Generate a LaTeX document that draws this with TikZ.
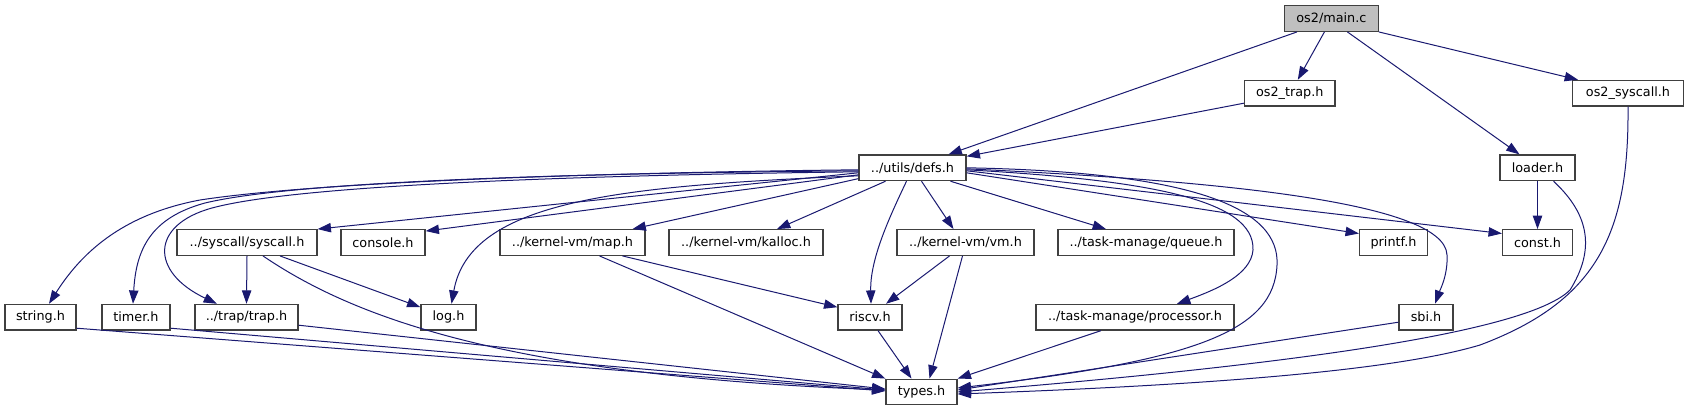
\documentclass[tikz,border=0pt]{standalone}
\usepackage{fontspec}
\setmainfont{DejaVu Sans}
\usetikzlibrary{arrows.meta,calc}
\definecolor{edgeblue}{HTML}{191970}
\definecolor{boxline}{HTML}{404040}
\definecolor{rootfill}{HTML}{BFBFBF}
\tikzset{
  box/.style={draw=boxline, line width=0.95pt, fill=white, inner sep=0pt,
    minimum height=19.2pt, font=\fontsize{9.6pt}{11pt}\selectfont, text=black},
  wd/.style={minimum width=#1*0.75pt},
  rootbox/.style={box, fill=rootfill},
  dep/.style={draw=edgeblue, line width=0.75pt, -{Triangle[length=10pt,width=7pt]}, fill=none},
}
\begin{document}
\begin{tikzpicture}[x=0.75pt,y=-0.75pt]
\useasboundingbox (0,0) rectangle (1687,411);
% row 1
\node[rootbox, wd=93.6] (main) at (1331.4,18.5) {os2/main.c};
% row 2
\node[box, wd=90.6] (os2trap) at (1289.8,93.2) {os2\_trap.h};
\node[box, wd=110.5] (os2sys) at (1628,93.2) {os2\_syscall.h};
% row 3
\node[box, wd=107] (defs) at (912.5,167.8) {../utils/defs.h};
\node[box, wd=75] (loader) at (1537.5,167.8) {loader.h};
% row 4
\node[box, wd=140] (syscall) at (247,242.5) {../syscall/syscall.h};
\node[box, wd=84] (console) at (383,242.5) {console.h};
\node[box, wd=145] (map) at (572.5,242.5) {../kernel-vm/map.h};
\node[box, wd=154] (kalloc) at (746,242.5) {../kernel-vm/kalloc.h};
\node[box, wd=137] (vm) at (965.5,242.5) {../kernel-vm/vm.h};
\node[box, wd=176] (queue) at (1146,242.5) {../task-manage/queue.h};
\node[box, wd=68] (printf) at (1393.5,242.5) {printf.h};
\node[box, wd=70] (const) at (1537.5,242.5) {const.h};
% row 5
\node[box, wd=71] (string) at (40.5,317.2) {string.h};
\node[box, wd=68] (timer) at (136,317.2) {timer.h};
\node[box, wd=103] (trap) at (246.5,317.2) {../trap/trap.h};
\node[box, wd=55] (log) at (448.5,317.2) {log.h};
\node[box, wd=64] (riscv) at (870,317.2) {riscv.h};
\node[box, wd=198] (processor) at (1135,317.2) {../task-manage/processor.h};
\node[box, wd=54] (sbi) at (1426,317.2) {sbi.h};
% row 6
\node[box, wd=71] (types) at (921.5,392) {types.h};

% edges from main.c
\draw[dep] ($(main.south west)+(13,0)$) -- ($(defs.north)+(36,0)$);
\draw[dep] ($(main.south)+(-7,0)$) -- ($(os2trap.north)+(8,0)$);
\draw[dep] ($(main.south)+(16,0)$) -- ($(loader.north)+(-18,0)$);
\draw[dep] (main.south east) -- ($(os2sys.north)+(-50,0)$);
\draw[dep] ($(os2trap.west)+(0,10)$) -- ($(defs.north east)+(0,2)$);
\draw[dep] (os2sys.south) .. controls (1629,230) and (1600,300) .. (1480,345)
   .. controls (1380,375) and (1150,387) .. ($(types.east)+(0,2)$);
\draw[dep] (loader.south) -- (const.north);
\draw[dep] ($(loader.south)+(16,0)$) .. controls (1590,215) and (1595,250) .. (1570,290)
   .. controls (1520,340) and (1200,372) .. (types.east);

% edges from defs.h, left side
\draw[dep] ($(defs.west)+(0,2)$) .. controls (650,172) and (330,180) .. (200,200)
   .. controls (120,215) and (80,255) .. ($(string.north)+(8.5,0)$);
\draw[dep] ($(defs.west)+(0,3)$) .. controls (600,173) and (300,180) .. (205,203)
   .. controls (150,218) and (136,250) .. ($(timer.north)+(-3,0)$);
\draw[dep] ($(defs.west)+(0,4)$) .. controls (600,175) and (300,184) .. (212,208)
   .. controls (150,225) and (150,272) .. ($(trap.north)+(-29.5,0)$);
\draw[dep] ($(defs.west)+(0,5)$) -- (syscall.north east);
\draw[dep] ($(defs.west)+(0,7)$) -- ($(console.north east)+(0,2)$);
\draw[dep] ($(defs.west)+(0,8)$) .. controls (620,186) and (470,200) .. ($(log.north)+(3,0)$);
\draw[dep] ($(defs.south west)+(0,-2.6)$) -- ($(map.north)+(60,0)$);
% defs.h bottom
\draw[dep] ($(defs.south)+(-27,0)$) -- ($(kalloc.north)+(31,0)$);
\draw[dep] ($(defs.south)+(-6,0)$) .. controls (888,220) and (870,260) .. ($(riscv.north)+(1,0)$);
\draw[dep] ($(defs.south)+(9,0)$) -- ($(vm.north)+(-12,0)$);
\draw[dep] ($(defs.south)+(38,0)$) -- ($(queue.north)+(-40,0)$);
% defs.h right side
\draw[dep] ($(defs.east)+(0,5)$) -- ($(printf.west)+(0,-9)$);
\draw[dep] ($(defs.east)+(0,3)$) -- ($(const.west)+(0,-9)$);
\draw[dep] ($(defs.east)+(0,1)$) .. controls (1200,180) and (1445,200) .. (1447,255)
   .. controls (1448,275) and (1440,290) .. ($(sbi.north)+(9,0)$);
\draw[dep] ($(defs.east)+(0,2)$) .. controls (1150,180) and (1255,200) .. (1253,250)
   .. controls (1251,275) and (1215,290) .. ($(processor.north)+(42,0)$);
\draw[dep] (defs.east) .. controls (1200,172) and (1280,210) .. (1277,265)
   .. controls (1274,330) and (1200,360) .. ($(types.east)+(0,-4)$);

% row 4 -> lower
\draw[dep] (syscall.south) -- (trap.north);
\draw[dep] ($(syscall.south)+(33,0)$) -- ($(log.west)+(0,-10)$);
\draw[dep] ($(syscall.south)+(16,0)$) .. controls (350,315) and (500,375) .. ($(types.west)+(0,-2)$);
\draw[dep] ($(map.south)+(50,0)$) -- ($(riscv.west)+(0,-10)$);
\draw[dep] ($(map.south)+(27,0)$) -- (types.north west);
\draw[dep] ($(vm.south)+(-16,0)$) -- ($(riscv.north)+(16,0)$);
\draw[dep] ($(vm.south)+(-3,0)$) -- ($(types.north)+(8,0)$);

% row 5 -> types.h
\draw[dep] ($(string.east)+(0,11)$) -- ($(types.west)+(0,-1)$);
\draw[dep] ($(timer.east)+(0,11)$) -- ($(types.west)+(0,-2)$);
\draw[dep] ($(trap.east)+(0,8)$) -- ($(types.west)+(0,-3)$);
\draw[dep] ($(riscv.south)+(8,0)$) -- ($(types.north)+(-10,0)$);
\draw[dep] ($(processor.south)+(-34,0)$) -- (types.north east);
\draw[dep] ($(sbi.west)+(0,5)$) -- ($(types.east)+(0,-2)$);
\end{tikzpicture}
\end{document}
